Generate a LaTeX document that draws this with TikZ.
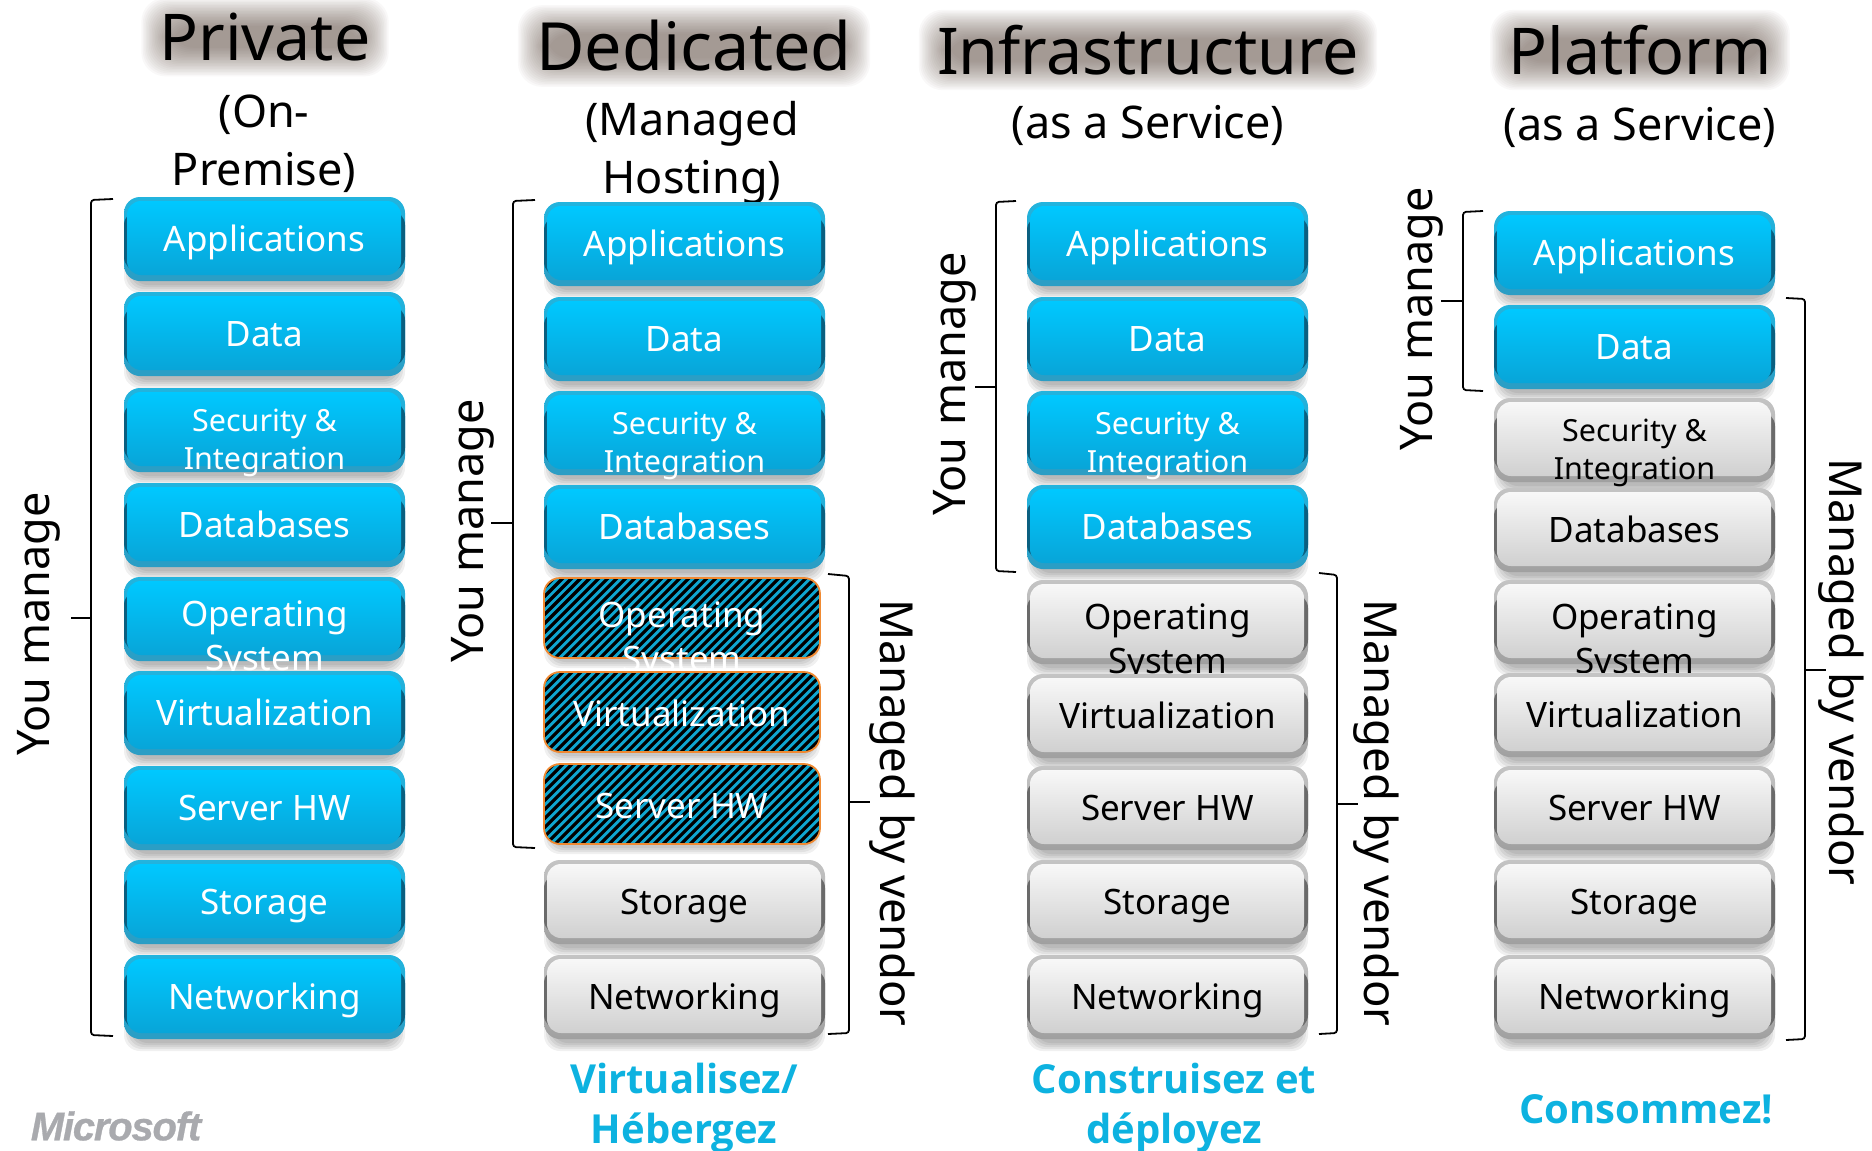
\documentclass[tikz,border=0pt]{standalone}
\usepackage{fontspec}
\setmainfont{Noto Sans}
\newfontfamily\ftrfont{Open Sans}
\newfontfamily\logofont[FakeBold=0.7,LetterSpace=-3]{Liberation Sans}
\usetikzlibrary{calc,backgrounds}
\definecolor{btop}{HTML}{22B4DE}
\definecolor{bbot}{HTML}{2B9DC4}
\definecolor{binT}{HTML}{00C8FF}
\definecolor{binB}{HTML}{08A5D8}
\definecolor{brim}{HTML}{0A5F80}
\definecolor{gtop}{HTML}{C4C4C4}
\definecolor{gbot}{HTML}{A0A0A0}
\definecolor{ginT}{HTML}{F8F8F8}
\definecolor{ginB}{HTML}{D0D0D0}
\definecolor{grim}{HTML}{6A6A6A}
\definecolor{hatchb}{HTML}{0FA6D0}
\definecolor{orng}{HTML}{F08A32}
\definecolor{glowc}{HTML}{5A483C}
\definecolor{foot}{HTML}{0DB2E0}
\definecolor{logoc}{HTML}{A9AAAE}
\tikzset{
  lbl/.style={anchor=base,inner sep=0pt,font=\fontsize{35}{44}\selectfont,align=center},
  osl/.style={anchor=center,inner sep=0pt,font=\fontsize{35}{44}\selectfont,align=center},
  secl/.style={anchor=center,inner sep=0pt,font=\fontsize{30.5}{38}\selectfont,align=center},
  ttl/.style={inner sep=0pt,font=\fontsize{64.5}{70}\selectfont},
  sub/.style={inner sep=0pt,font=\fontsize{45}{58}\selectfont,align=center},
  side/.style={inner sep=0pt,font=\fontsize{45}{50}\selectfont},
  sidem/.style={inner sep=0pt,font=\fontsize{45.5}{50}\selectfont},
  ftr/.style={inner sep=0pt,text=foot,font=\ftrfont\fontsize{40}{50}\selectfont\bfseries,align=center},
  brk/.style={draw=black,line width=1.8pt,rounded corners=3pt},
  tshadow/.style={black,opacity=.06,rounded corners=16pt}
}
% #1 colour family (b / g), #2 name, #3 x, #4 top, #5 label style, #6 label
\newcommand\tile[6]{%
  \foreach \s in {0,2,4,6,8}{\fill[tshadow] ({#3+\s},{#4+6+\s}) rectangle ({#3+281-\s},{#4+84+12-\s});}
  \shade[rounded corners=16pt,top color=#1top,bottom color=#1bot] (#3,#4) rectangle ({#3+281},{#4+84});
  \fill[rounded corners=14pt,#1rim] (#3,{#4+14}) rectangle ({#3+281},{#4+74});
  \shade[rounded corners=14pt,top color=#1inT,bottom color=#1inB] ({#3+3},{#4+4}) rectangle ({#3+277},{#4+78});
  \node[#5,#1lab] (#2) at ({#3+140.5},{#4+\csname off#5\endcsname}) {#6};
}
\newcommand\hatile[6]{%
  \foreach \s in {0,2,4,6}{\fill[tshadow] ({#3+\s},{#4+6+\s}) rectangle ({#3+276-\s},{#4+80+10-\s});}
  \begin{scope}
    \clip[rounded corners=16pt] (#3,#4) rectangle ({#3+276},{#4+80});
    \fill[hatchb] (#3,#4) rectangle ({#3+276},{#4+80});
    \foreach \i in {-90,-81,...,280}{\draw[black,line width=3.2pt] ({#3+\i},{#4+82}) -- ({#3+\i+84},{#4-2});}
  \end{scope}
  \draw[orng,line width=1.8pt,rounded corners=16pt] (#3,#4) rectangle ({#3+276},{#4+80});
  \node[#5,text=white] (#2) at ({#3+138},{#4+\csname off#5\endcsname}) {#6};
}
\tikzset{blab/.style={text=white},glab/.style={text=black}}
\expandafter\def\csname offlbl\endcsname{54}
\expandafter\def\csname offosl\endcsname{63}
\expandafter\def\csname offsecl\endcsname{55}
\newcommand\glow[1]{%
  \foreach \s in {18,16.5,...,-10.5}{\fill[glowc,opacity=.036,rounded corners=24pt]
    ($(#1.south west)+(-\s,\s-3)$) rectangle ($(#1.north east)+(\s,-\s+3)$);}
}
\begin{document}
\begin{tikzpicture}[x=1pt,y=-1pt]
\pgfdeclarelayer{bg}\pgfsetlayers{bg,main}
\useasboundingbox (0,0) rectangle (1872,1151);
% titles
\node[ttl] (t1) at (265,37) {Private};
\node[ttl,font=\fontsize{66.5}{70}\selectfont] (t2) at (694,46) {Dedicated};
\node[ttl] (t3) at (1148,50) {Infrastructure};
\node[ttl] (t4) at (1640,50) {Platform};
\begin{pgfonlayer}{bg}
\fill[white] (0,0) rectangle (1872,1151);
\glow{t1}\glow{t2}\glow{t3}\glow{t4}
\end{pgfonlayer}
\node[sub] (s1) at (264,144) {(On-\\Premise)};
\node[sub] (s2) at (692,153) {(Managed\\Hosting)};
\node[sub] (s3) at (1148,125) {(as a Service)};
\node[sub] (s4) at (1640,127) {(as a Service)};
% column 1
\tile{b}{a1}{124}{197}{lbl}{Applications}
\tile{b}{a2}{124}{292}{lbl}{Data}
\tile{b}{a3}{124}{388}{secl}{Security \&\\Integration}
\tile{b}{a4}{124}{483}{lbl}{Databases}
\tile{b}{a5}{124}{577}{osl}{Operating\\System}
\tile{b}{a6}{124}{671}{lbl}{Virtualization}
\tile{b}{a7}{124}{766}{lbl}{Server HW}
\tile{b}{a8}{124}{860}{lbl}{Storage}
\tile{b}{a9}{124}{955}{lbl}{Networking}
% column 2
\tile{b}{b1}{544}{202}{lbl}{Applications}
\tile{b}{b2}{544}{297}{lbl}{Data}
\tile{b}{b3}{544}{391}{secl}{Security \&\\Integration}
\tile{b}{b4}{544}{485}{lbl}{Databases}
\hatile{h}{b5}{544}{578}{osl}{Operating\\System}
\hatile{h}{b6}{544}{672}{lbl}{Virtualization}
\hatile{h}{b7}{544}{764}{lbl}{Server HW}
\tile{g}{b8}{544}{860}{lbl}{Storage}
\tile{g}{b9}{544}{955}{lbl}{Networking}
% column 3
\tile{b}{c1}{1027}{202}{lbl}{Applications}
\tile{b}{c2}{1027}{297}{lbl}{Data}
\tile{b}{c3}{1027}{391}{secl}{Security \&\\Integration}
\tile{b}{c4}{1027}{485}{lbl}{Databases}
\tile{g}{c5}{1027}{580}{osl}{Operating\\System}
\tile{g}{c6}{1027}{674}{lbl}{Virtualization}
\tile{g}{c7}{1027}{766}{lbl}{Server HW}
\tile{g}{c8}{1027}{860}{lbl}{Storage}
\tile{g}{c9}{1027}{955}{lbl}{Networking}
% column 4
\tile{b}{d1}{1494}{211}{lbl}{Applications}
\tile{b}{d2}{1494}{305}{lbl}{Data}
\tile{g}{d3}{1494}{398}{secl}{Security \&\\Integration}
\tile{g}{d4}{1494}{488}{lbl}{Databases}
\tile{g}{d5}{1494}{580}{osl}{Operating\\System}
\tile{g}{d6}{1494}{673}{lbl}{Virtualization}
\tile{g}{d7}{1494}{766}{lbl}{Server HW}
\tile{g}{d8}{1494}{860}{lbl}{Storage}
\tile{g}{d9}{1494}{955}{lbl}{Networking}
% brackets
\draw[brk] (113,199) -- (91,200) -- (91,1035) -- (113,1036);
\draw[brk] (91,618) -- (71,618);
\draw[brk] (535,200) -- (513,201) -- (513,847) -- (535,848);
\draw[brk] (513,523) -- (491,523);
\draw[brk] (828,574) -- (849,576) -- (849,1033) -- (828,1034);
\draw[brk] (849,802) -- (870,802);
\draw[brk] (1016,201) -- (996,202) -- (996,571) -- (1016,572);
\draw[brk] (996,387) -- (975,387);
\draw[brk] (1319,573) -- (1337,575) -- (1337,1033) -- (1319,1034);
\draw[brk] (1337,804) -- (1358,804);
\draw[brk] (1483,211) -- (1463,212) -- (1463,390) -- (1483,391);
\draw[brk] (1463,301) -- (1441,301);
\draw[brk] (1786,298) -- (1805,299) -- (1805,1039) -- (1786,1040);
\draw[brk] (1805,670) -- (1826,670);
% side labels
\node[side,rotate=90] (y1) at (39,624) {You manage};
\node[side,rotate=90] (y2) at (473,531) {You manage};
\node[side,rotate=90] (y3) at (955,384) {You manage};
\node[side,rotate=90] (y4) at (1422,319) {You manage};
\node[sidem,rotate=-90] (m2) at (892,813) {Managed by vendor};
\node[sidem,rotate=-90] (m3) at (1376,813) {Managed by vendor};
\node[sidem,rotate=-90] (m4) at (1841,672) {Managed by vendor};
% footers
\node[ftr] (f2) at (684,1108.5) {Virtualisez/\\Hébergez};
\node[ftr] (f3) at (1174,1108.5) {Construisez et\\déployez};
\node[ftr] (f4) at (1646,1109) {Consommez!};
\node[inner sep=0pt,text=logoc,font=\logofont\fontsize{40}{40}\selectfont\bfseries\itshape] (ms) at (116,1126) {Microsoft};
\end{tikzpicture}
\end{document}
